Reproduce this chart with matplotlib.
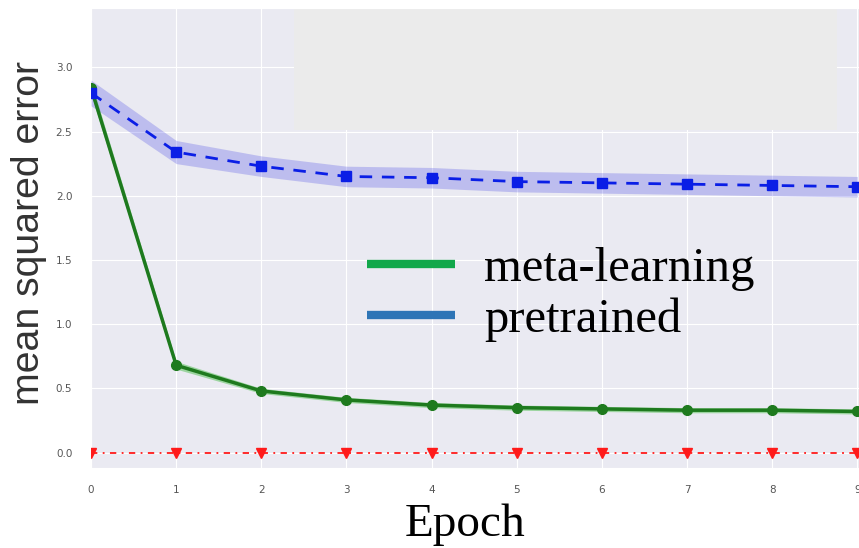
import matplotlib
matplotlib.use("Agg")
import matplotlib.pyplot as plt
from matplotlib.lines import Line2D
from matplotlib.patches import Rectangle
import numpy as np
import seaborn as sns

# values
epochs = list(range(10))
meta_mse = [2.84, 0.68, 0.48, 0.41, 0.37, 0.35, 0.34, 0.33, 0.33, 0.32]
meta_err = [0.05, 0.03, 0.02, 0.02, 0.02, 0.02, 0.02, 0.02, 0.02, 0.02]
pre_mse = [2.80, 2.34, 2.23, 2.15, 2.14, 2.11, 2.10, 2.09, 2.08, 2.07]
pre_err = [0.10, 0.09, 0.08, 0.08, 0.08, 0.08, 0.08, 0.08, 0.08, 0.08]
oracle_mse = [0.0] * 10

sns.set_style("darkgrid")

fig = plt.figure(figsize=(8.59, 5.48), dpi=100)
ax = fig.add_axes([0.106, 0.146, 0.894, 0.839])

x = np.array(epochs)
m = np.array(meta_mse)
p = np.array(pre_mse)

ax.fill_between(x, m - np.array(meta_err), m + np.array(meta_err),
                color="#4fc04f", alpha=0.5, lw=0, zorder=3)
ax.plot(x, m, "-o", color="#1e7a1e", lw=2.5, ms=7, zorder=4)

ax.fill_between(x, p - np.array(pre_err), p + np.array(pre_err),
                color="#2020e0", alpha=0.22, lw=0, zorder=3)
ax.plot(x, p, "--s", color="#0a1ee6", lw=2, ms=7, dashes=(4.5, 3.5), zorder=4)

ax.plot(x, oracle_mse, "-.v", color="#ff1a1a", lw=1.3, ms=7,
        dashes=(3.5, 3, 1, 3), zorder=4)

# the washed-out patch in the upper part of the plot
ax.add_patch(Rectangle((0.264, 0.735), 0.708, 0.27, transform=ax.transAxes,
                       facecolor="#ebebeb", edgecolor="none", zorder=1.5))

ax.set_xlim(0, 9.02)
ax.set_ylim(-0.12, 3.46)
ax.set_xticks(epochs)
ax.set_yticks([0.0, 0.5, 1.0, 1.5, 2.0, 2.5, 3.0])
ax.tick_params(axis="y", labelsize=7.5, colors="#555555", pad=10)
ax.tick_params(axis="x", labelsize=7.5, colors="#555555", pad=9)

ax.set_ylabel("mean squared error", family="Liberation Sans", fontsize=28.3,
              color="#333333")
ax.yaxis.set_label_coords(-0.058, 0.512)
ax.set_xlabel("Epoch", family="Liberation Serif", fontsize=34, color="black")
ax.xaxis.set_label_coords(0.487, -0.078)

handles = [Line2D([], [], color="#12a84b", lw=6, solid_capstyle="butt"),
           Line2D([], [], color="#2e75b6", lw=6, solid_capstyle="butt")]
leg = ax.legend(handles, ["meta-learning", "pretrained"],
                loc="upper left", bbox_to_anchor=(0.303, 0.575),
                prop={"family": "Liberation Serif", "size": 35},
                frameon=False, handlelength=1.8, handletextpad=0.6,
                labelspacing=0.12, labelcolor="black")

fig.savefig("out.png", dpi=100)
